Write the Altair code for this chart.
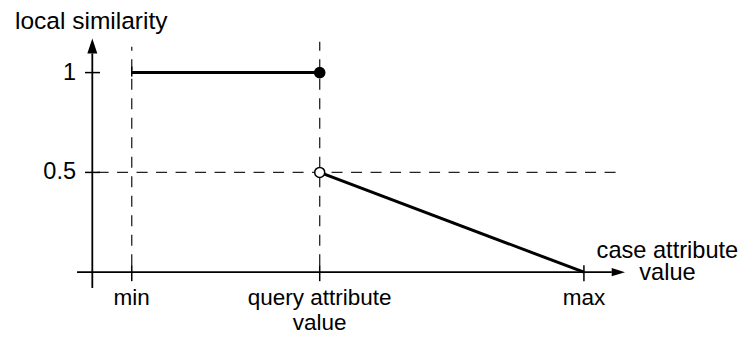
import altair as alt
import pandas as pd

# ---- data ----
x_min = 1.5          # "min" position on the case-attribute axis
x_query = 8.65       # "query attribute value" position
x_max = 18.7         # "max" position
sim_high = 1.0       # similarity between min and query (inclusive)
sim_mid = 0.5        # similarity just after query
sim_low = 0.0        # similarity at max

y_tick_values = [1.0, 0.5]
y_tick_labels = ["1", "0.5"]
x_tick_values = [x_min, x_query, x_max]
x_tick_labels = ["min", "query attribute\nvalue", "max"]
y_title = "local similarity"
x_title = "case attribute\nvalue"

# ---- geometry of the drawing (in data units) ----
X_DOMAIN = [-3.207, 24.637]
Y_DOMAIN = [-0.3046, 1.3236]
X_AXIS_START, X_AXIS_END, X_ARROW = -0.58, 19.76, 20.01
Y_AXIS_START, Y_AXIS_END, Y_ARROW = -0.079, 1.096, 1.133

FONT = "Liberation Sans"

xs = alt.Scale(domain=X_DOMAIN, nice=False, zero=False)
ys = alt.Scale(domain=Y_DOMAIN, nice=False, zero=False)


def X(f="x"):
    return alt.X(f, type="quantitative", scale=xs, axis=None)


def Y(f="y"):
    return alt.Y(f, type="quantitative", scale=ys, axis=None)


layers = []

# axes lines
axes_df = pd.DataFrame({
    "x": [X_AXIS_START, 0.0], "x2": [X_AXIS_END, 0.0],
    "y": [0.0, Y_AXIS_START], "y2": [0.0, Y_AXIS_END],
})
layers.append(alt.Chart(axes_df).mark_rule(color="black", strokeWidth=1.8).encode(
    x=X(), x2="x2", y=Y(), y2="y2"))

# arrow heads
arrows_df = pd.DataFrame({"x": [0.0, X_ARROW], "y": [Y_ARROW, 0.0], "k": ["up", "right"]})
layers.append(alt.Chart(arrows_df[arrows_df.k == "up"]).mark_point(
    shape="M0,-1L0.6667,1L-0.6667,1Z", filled=True, color="black", opacity=1, size=225
).encode(x=X(), y=Y()))
layers.append(alt.Chart(arrows_df[arrows_df.k == "right"]).mark_point(
    shape="M1,0L-1,-0.62L-1,0.62Z", filled=True, color="black", opacity=1, size=177
).encode(x=X(), y=Y()))

# dashed guide lines
dash_v = pd.DataFrame({"x": [x_min, x_query], "y": [0.035, 0.035], "y2": [1.13, 1.155]})
layers.append(alt.Chart(dash_v).mark_rule(color="#222", strokeWidth=1.3, strokeDash=[11, 8.5]).encode(
    x=X(), y=Y(), y2="y2"))
dash_h = pd.DataFrame({"x": [0.2], "x2": [20.14], "y": [sim_mid]})
layers.append(alt.Chart(dash_h).mark_rule(color="#222", strokeWidth=1.3, strokeDash=[11, 8.5]).encode(
    x=X(), x2="x2", y=Y()))

# ticks on x axis
xt = pd.DataFrame({"x": x_tick_values})
layers.append(alt.Chart(xt).mark_rule(color="black", strokeWidth=1.5).encode(
    x=X(), y=alt.datum(-0.045, type="quantitative", scale=ys, axis=None),
    y2=alt.datum(0.035)))
# ticks on y axis
yt = pd.DataFrame({"y": y_tick_values})
layers.append(alt.Chart(yt).mark_rule(color="black", strokeWidth=1.5).encode(
    y=Y(), x=alt.datum(-0.278, type="quantitative", scale=xs, axis=None),
    x2=alt.datum(0.293)))

# similarity function segments
seg = pd.DataFrame({
    "x": [x_min, x_query], "x2": [x_query, x_max],
    "y": [sim_high, sim_mid], "y2": [sim_high, sim_low],
})
layers.append(alt.Chart(seg).mark_rule(color="black", strokeWidth=3).encode(
    x=X(), x2="x2", y=Y(), y2="y2"))
# small start tick of the horizontal segment
st = pd.DataFrame({"x": [x_min], "y": [sim_high - 0.02], "y2": [sim_high + 0.03]})
layers.append(alt.Chart(st).mark_rule(color="black", strokeWidth=1.5).encode(
    x=X(), y=Y(), y2="y2"))

# endpoints
filled = pd.DataFrame({"x": [x_query], "y": [sim_high]})
layers.append(alt.Chart(filled).mark_point(shape="circle", filled=True, color="black",
                                           opacity=1, size=135).encode(x=X(), y=Y()))
opened = pd.DataFrame({"x": [x_query], "y": [sim_mid]})
layers.append(alt.Chart(opened).mark_point(shape="circle", filled=True, fill="white",
                                           stroke="black", strokeWidth=1.5, opacity=1,
                                           size=100).encode(x=X(), y=Y()))

# tick labels
ytl = pd.DataFrame({"y": y_tick_values, "t": y_tick_labels})
layers.append(alt.Chart(ytl).mark_text(font=FONT, fontSize=23.5, align="right", baseline="middle",
                                       dx=-16.3, color="black").encode(
    y=Y(), x=alt.datum(0.0, type="quantitative", scale=xs, axis=None), text="t"))
xtl = pd.DataFrame({"x": x_tick_values, "t": x_tick_labels})
layers.append(alt.Chart(xtl).mark_text(font=FONT, fontSize=22.5, align="center", baseline="alphabetic",
                                       dy=32.8, lineBreak="\n", lineHeight=25, color="black").encode(
    x=X(), y=alt.datum(0.0, type="quantitative", scale=ys, axis=None), text="t"))

# axis titles
yt_df = pd.DataFrame({"x": [0.0], "y": [1.17], "t": [y_title]})
layers.append(alt.Chart(yt_df).mark_text(font=FONT, fontSize=24.5, align="left", baseline="alphabetic",
                                         dx=-77.3, dy=-9.6, color="black").encode(
    x=X(), y=Y(), text="t"))
xt_df = pd.DataFrame({"x": [20.26], "y": [0.0], "t": [x_title]})
layers.append(alt.Chart(xt_df).mark_text(font=FONT, fontSize=23.6, align="center", baseline="alphabetic",
                                         dx=42.5, dy=-14.2, lineBreak="\n", lineHeight=22,
                                         color="black").encode(
    x=X(), y=Y(), text="t"))

chart = alt.layer(*layers).properties(
    width=732, height=325, padding=0,
    autosize=alt.AutoSizeParams(type="none"),
    background="white",
).configure_view(stroke=None)

chart.save("out.html", embed_options={"renderer": "svg", "actions": False})
